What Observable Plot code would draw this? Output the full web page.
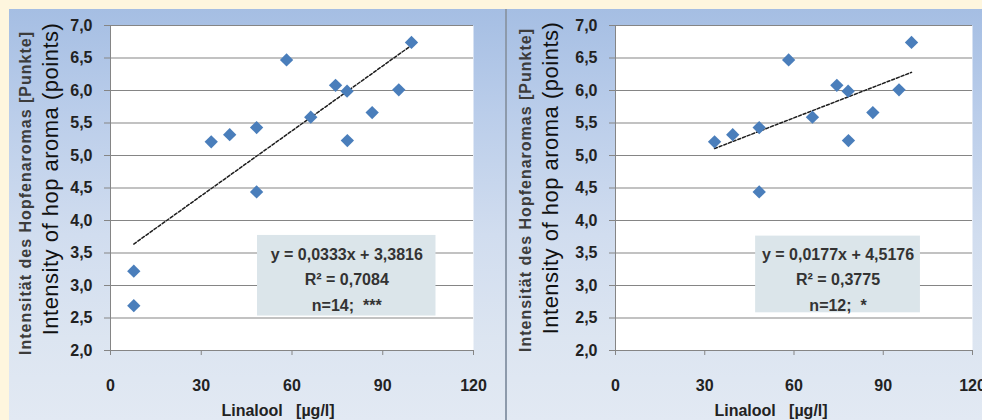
<!DOCTYPE html>
<html>
<head>
<meta charset="utf-8">
<script src="https://cdn.jsdelivr.net/npm/d3@7"></script>
<script src="https://cdn.jsdelivr.net/npm/@observablehq/plot@0.6"></script>
<style>
  html, body { margin: 0; padding: 0; background: #fef6de; }
  #wrap { position: relative; width: 982px; height: 420px; overflow: hidden; background: #fef6de; }
  .panel {
    position: absolute; top: 9px; height: 411px; overflow: hidden;
    background: linear-gradient(to bottom, #a5bee3 0%, #bacdea 25%, #d1ddef 55%, #dce5f1 80%, #e2e9f3 100%);
  }
  #left { left: 9px; width: 496px; }
  #right { left: 507px; width: 475px; }
  #sep { position: absolute; left: 505px; top: 9px; width: 2px; height: 411px; background: #8d9aab; }
  .panel svg g[aria-label="y-axis tick label"] text,
  .panel svg g[aria-label="x-axis tick label"] text { font-weight: bold; }
  .panel svg g.title-de text { letter-spacing: 1px; }
  .panel svg g.title-en text { letter-spacing: 0.5px; }
</style>
</head>
<body>
<div id="wrap">
  <div class="panel" id="left"></div>
  <div id="sep"></div>
  <div class="panel" id="right"></div>
</div>
<script>
// Linalool content (µg/l) and hop-aroma intensity (points) of the tasted beers
const linalool = [7.7, 7.7, 33.3, 39.4, 48.3, 48.3, 58.2, 66.2, 74.4, 78.2, 78.3, 86.5, 95.3, 99.5];
const aroma    = [3.22, 2.69, 5.21, 5.32, 5.43, 4.44, 6.47, 5.59, 6.08, 5.99, 5.23, 5.66, 6.01, 6.74];

// Right panel: only the beers with at least 30 µg/l linalool
const minLinaloolRight = 30;

// Linear trend lines (slope, intercept), coefficient of determination, sample size / significance
const slopes     = [0.0333, 0.0177];
const intercepts = [3.3816, 4.5176];
const rSquared   = [0.7084, 0.3775];
const nLabels    = ["n=14;  ***", "n=12;  *"];

// Axis ticks
const xTicks = [0, 30, 60, 90, 120];
const yTicks = [2.0, 2.5, 3.0, 3.5, 4.0, 4.5, 5.0, 5.5, 6.0, 6.5, 7.0];

const titleDe = "Intensität des Hopfenaromas [Punkte]";
const titleEn = "Intensity of hop aroma (points)";
const titleX  = "Linalool\u00a0\u00a0\u00a0[µg/l]";

const comma = (v, digits) => v.toFixed(digits).replace(".", ",");

const allPoints = linalool.map((x, i) => ({x, y: aroma[i]}));
const panels = [
  {
    el: "#left", width: 496, marginLeft: 101, marginRight: 32,
    points: allPoints,
    box: {x1: 48.6, x2: 107.6, y1: 2.53, y2: 3.77},
    titleDx: [-85, -60], titleDy: [5, -9], xTitleDx: -14
  },
  {
    el: "#right", width: 475, marginLeft: 108, marginRight: 10,
    points: allPoints.filter(d => d.x >= minLinaloolRight),
    box: {x1: 47.1, x2: 102.5, y1: 2.58, y2: 3.76},
    titleDx: [-90, -65], titleDy: [2, -10], xTitleDx: -23
  }
];

const grid = "#858585";
const ink = "#222";

panels.forEach((p, i) => {
  const a = slopes[i], b = intercepts[i];
  const xs = p.points.map(d => d.x);
  const trend = [d3.min(xs), d3.max(xs)].map(x => ({x, y: a * x + b}));
  const eq = `y = ${comma(a, 4)}x + ${comma(b, 4)}\nR² = ${comma(rSquared[i], 4)}\n${nLabels[i]}`;
  const box = p.box;

  const chart = Plot.plot({
    width: p.width,
    height: 411,
    marginLeft: p.marginLeft,
    marginRight: p.marginRight,
    marginTop: 16,
    marginBottom: 70,
    x: {domain: [0, 120]},
    y: {domain: [2, 7]},
    style: {background: "transparent", fontFamily: "'Liberation Sans', Arial, sans-serif", overflow: "visible"},
    marks: [
      Plot.frame({fill: "white", stroke: "none"}),
      Plot.gridY(yTicks, {stroke: grid, strokeOpacity: 1}),
      Plot.ruleX([0], {stroke: grid}),
      Plot.rect([box], {x1: "x1", x2: "x2", y1: "y1", y2: "y2", fill: "#dbe5ea"}),
      Plot.line(trend, {x: "x", y: "y", stroke: "#1e1e1e", strokeWidth: 1.5, strokeDasharray: "3,2"}),
      Plot.dot(p.points, {x: "x", y: "y", symbol: "diamond2", r: 6, fill: "#4a7ebb", stroke: "none"}),
      Plot.text([eq], {
        x: (box.x1 + box.x2) / 2, y: 3.13, text: d => d,
        fontSize: 16, fontWeight: "bold", fill: "#333", lineHeight: 1.6, lineAnchor: "middle"
      }),
      Plot.axisY({
        ticks: yTicks, tickFormat: d => comma(d, 1), tickSize: 6, tickPadding: 12,
        stroke: grid, fill: ink, fontSize: 16, fontWeight: "bold", label: null
      }),
      Plot.axisX({
        ticks: xTicks, tickSize: 5, tickPadding: 24,
        stroke: grid, fill: ink, fontSize: 16, fontWeight: "bold", label: null
      }),
      Plot.text([titleX], {
        frameAnchor: "bottom", dx: p.xTitleDx, dy: 60, text: d => d, lineAnchor: "middle",
        fontSize: 16, fontWeight: "bold", fill: ink
      }),
      Plot.text([titleDe], {
        frameAnchor: "left", dx: p.titleDx[0], dy: p.titleDy[0], rotate: -90, text: d => d,
        textAnchor: "middle", lineAnchor: "middle", fontSize: 16, fontWeight: "bold", fill: "#3c3c3c",
        className: "title-de"
      }),
      Plot.text([titleEn], {
        frameAnchor: "left", dx: p.titleDx[1], dy: p.titleDy[1], rotate: -90, text: d => d,
        textAnchor: "middle", lineAnchor: "middle", fontSize: 22, fill: "#111",
        className: "title-en"
      })
    ]
  });
  document.querySelector(p.el).appendChild(chart);
});
</script>
</body>
</html>
